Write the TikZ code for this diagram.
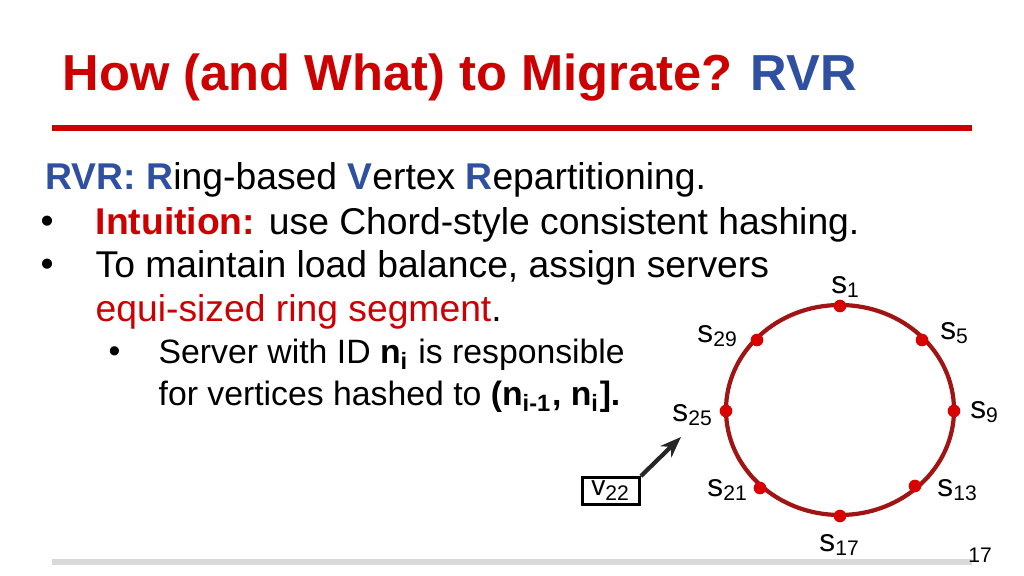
\documentclass[tikz,border=0pt]{standalone}
\usepackage{fontspec}
\setmainfont{Liberation Sans}
\usetikzlibrary{arrows.meta}
\definecolor{titlered}{RGB}{204,0,0}
\definecolor{rvrblue}{RGB}{47,79,160}
\definecolor{ringred}{RGB}{160,20,20}
\tikzset{
	body/.style={anchor=west, inner sep=0pt, font=\fontsize{10.6pt}{12pt}\selectfont},
	subbody/.style={anchor=west, inner sep=0pt, font=\fontsize{9.6pt}{11pt}\selectfont},
	srv/.style={circle, fill=red!85!black, inner sep=0pt, minimum size=3.6pt},
	srvlabel/.style={inner sep=0pt, font=\fontsize{9pt}{10pt}\selectfont}
}
\begin{document}
\begin{tikzpicture}[x=0.01cm, y=-0.01cm]
			\useasboundingbox (0,0) rectangle (1024,576);

			% title and rules
			\node[anchor=west, inner sep=0pt, font=\bfseries\fontsize{14.4pt}{16pt}\selectfont]
				(title) at (62,78) {\color{titlered}How (and What) to Migrate? \color{rvrblue}RVR};
			\draw[titlered, line width=1.8pt]	(52,128)	--	(972,128);
			\draw[black!15, line width=1.8pt]	(52,562)	--	(972,562);

			% text
			\node[body] (head) at (45,180) {\textbf{\color{rvrblue}RVR: R}ing-based \textbf{\color{rvrblue}V}ertex \textbf{\color{rvrblue}R}epartitioning.};
			\node[body] (b1) at (40,225) {\textbullet};
			\node[body] (t1) at (95,225) {\textbf{\color{titlered}Intuition:} use Chord-style consistent hashing.};
			\node[body] (b2) at (40,268) {\textbullet};
			\node[body] (t2) at (95,268) {To maintain load balance, assign servers};
			\node[body] (t3) at (95,312) {\color{titlered}equi-sized ring segment\color{black}.};
			\node[subbody] (b3) at (108,355) {\textbullet};
			\node[subbody] (t4) at (158,355) {Server with ID \textbf{n\textsubscript{i}} is responsible};
			\node[subbody] (t5) at (158,397) {for vertices hashed to \textbf{(n\textsubscript{i-1}, n\textsubscript{i}].}};

			% ring
			\draw[ringred, line width=1.2pt] (840,410) ellipse [x radius=114, y radius=105];
			\node[srv] (s1)  at (840,306) {};
			\node[srv] (s5)  at (922,340) {};
			\node[srv] (s9)  at (954,411) {};
			\node[srv] (s13) at (915,486) {};
			\node[srv] (s17) at (840,516) {};
			\node[srv] (s21) at (760,488) {};
			\node[srv] (s25) at (726,411) {};
			\node[srv] (s29) at (757,340) {};

			% server labels
			\node[srvlabel] (l1)  at (846,287) {s\textsubscript{1}};
			\node[srvlabel] (l5)  at (955,333) {s\textsubscript{5}};
			\node[srvlabel] (l9)  at (985,412) {s\textsubscript{9}};
			\node[srvlabel] (l13) at (958,490) {s\textsubscript{13}};
			\node[srvlabel] (l17) at (840,545) {s\textsubscript{17}};
			\node[srvlabel] (l21) at (728,490) {s\textsubscript{21}};
			\node[srvlabel] (l25) at (693,415) {s\textsubscript{25}};
			\node[srvlabel] (l29) at (718,336) {s\textsubscript{29}};

			% vertex
			\node[draw, line width=0.8pt, inner sep=0pt,
				minimum width=0.57cm, minimum height=0.27cm, font=\fontsize{8pt}{9pt}\selectfont]
				(v22) at (611,491) {v\textsubscript{22}};
			\coordinate (tip) at (681,437);
			\draw[-{Stealth[length=6pt]}, line width=1.2pt, black!85] (v22.north east) -- (tip);

			% page number
			\node[inner sep=0pt, font=\fontsize{6pt}{7pt}\selectfont] (page) at (980,555) {17};
		\end{tikzpicture}
\end{document}
